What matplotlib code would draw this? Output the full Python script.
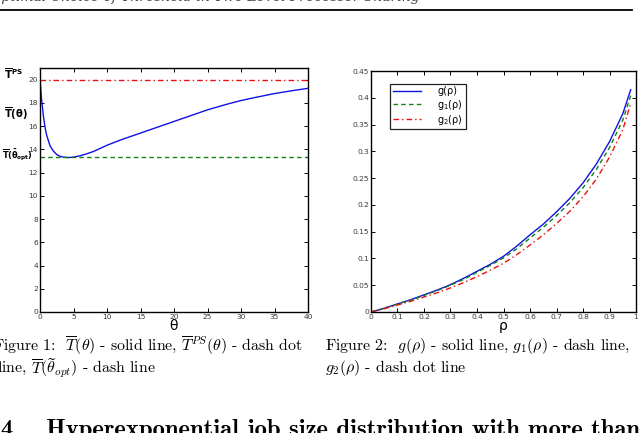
import matplotlib
matplotlib.use("Agg")
import matplotlib.pyplot as plt
import matplotlib.transforms as mtransforms

plt.rcParams['mathtext.fontset'] = 'dejavusans'

# ---- data: figure 1 ----
theta = [0, 0.25, 0.5, 0.75, 1, 1.5, 2, 2.5, 3, 3.5, 4, 4.5, 5, 6, 7, 8, 10,
         12, 15, 18, 20, 22, 25, 28, 30, 32, 35, 38, 40]
T_theta = [20, 18.2, 16.9, 15.9, 15.2, 14.3, 13.85, 13.55, 13.4, 13.33, 13.3,
           13.3, 13.33, 13.45, 13.62, 13.82, 14.35, 14.8, 15.4, 16.0, 16.4,
           16.8, 17.4, 17.9, 18.2, 18.45, 18.8, 19.08, 19.25]
T_ps = 20.0
T_opt = 13.3
xticks1 = [0, 5, 10, 15, 20, 25, 30, 35, 40]
yticks1 = [0, 2, 4, 6, 8, 10, 12, 14, 16, 18, 20]

# ---- data: figure 2 ----
rho = [0, 0.05, 0.1, 0.15, 0.2, 0.25, 0.3, 0.35, 0.4, 0.45, 0.5, 0.55, 0.6,
       0.65, 0.7, 0.75, 0.8, 0.85, 0.9, 0.95, 0.98]
g = [0, 0.007, 0.015, 0.023, 0.032, 0.041, 0.051, 0.063, 0.076, 0.089, 0.104,
     0.123, 0.144, 0.164, 0.187, 0.212, 0.241, 0.276, 0.318, 0.37, 0.415]
g1 = [0, 0.007, 0.015, 0.022, 0.031, 0.040, 0.050, 0.061, 0.074, 0.087, 0.101,
      0.118, 0.138, 0.158, 0.180, 0.204, 0.232, 0.266, 0.307, 0.358, 0.404]
g2 = [0, 0.006, 0.013, 0.020, 0.028, 0.036, 0.045, 0.055, 0.066, 0.078, 0.091,
      0.107, 0.125, 0.144, 0.165, 0.188, 0.215, 0.248, 0.289, 0.34, 0.39]
xticks2 = [0, 0.1, 0.2, 0.3, 0.4, 0.5, 0.6, 0.7, 0.8, 0.9, 1]
xticklabels2 = ['0', '0.1', '0.2', '0.3', '0.4', '0.5', '0.6', '0.7', '0.8', '0.9', '1']
yticks2 = [0, 0.05, 0.1, 0.15, 0.2, 0.25, 0.3, 0.35, 0.4, 0.45]
yticklabels2 = ['0', '0.05', '0.1', '0.15', '0.2', '0.25', '0.3', '0.35', '0.4', '0.45']
legend_labels = ['g(ρ)', 'g$_1$(ρ)', 'g$_2$(ρ)']

W, H = 643, 433
fig = plt.figure(figsize=(W / 100, H / 100), dpi=100)

BLUE, GREEN, RED = '#1010e8', '#108010', '#e81010'
DASH = (0, (3.2, 2.4))
DASHDOT = (0, (4, 2.2, 1, 2.2))

def style(ax):
    ax.tick_params(direction='in', length=3, width=0.7, labelsize=5.4,
                   labelcolor='#3a3a3a', top=True, right=True, pad=1.5)
    for s in ax.spines.values():
        s.set_linewidth(1.0)

ax1 = fig.add_axes([40 / W, 1 - 312 / H, 268 / W, 244 / H])
ax1.plot(theta, T_theta, color=BLUE, lw=1.0)
ax1.axhline(T_ps, color=RED, lw=1.0, ls=DASHDOT)
ax1.axhline(T_opt, color=GREEN, lw=1.0, ls=DASH)
ax1.set_xlim(0, 40)
ax1.set_ylim(0, 21)
ax1.set_xticks(xticks1)
ax1.set_yticks(yticks1)
style(ax1)
ax1.set_xlabel('θ', fontsize=10, labelpad=-1)

tr = mtransforms.blended_transform_factory(fig.transFigure, ax1.transData)
ax1.text(4 / W, 20.5, r'$\mathbf{\overline{T}^{PS}}$', transform=tr, fontsize=7.3,
         ha='left', va='center')
ax1.text(4 / W, 17.1, r'$\mathbf{\overline{T}(\theta)}$', transform=tr, fontsize=7.2,
         ha='left', va='center')
ax1.text(2 / W, 13.5, r'$\mathbf{\overline{T}(\bar{\theta}_{opt})}$', transform=tr,
         fontsize=5.9, ha='left', va='center')

ax2 = fig.add_axes([371 / W, 1 - 312 / H, 265 / W, 241 / H])
ax2.plot(rho, g, color=BLUE, lw=1.0, label=legend_labels[0])
ax2.plot(rho, g1, color=GREEN, lw=1.0, ls=DASH, label=legend_labels[1])
ax2.plot(rho, g2, color=RED, lw=1.0, ls=DASHDOT, label=legend_labels[2])
ax2.set_xlim(0, 1)
ax2.set_ylim(0, 0.45)
ax2.set_xticks(xticks2)
ax2.set_xticklabels(xticklabels2)
ax2.set_yticks(yticks2)
ax2.set_yticklabels(yticklabels2)
style(ax2)
ax2.set_xlabel('ρ', fontsize=10, labelpad=-1)
leg = ax2.legend(loc='upper left', bbox_to_anchor=(0.072, 0.946), borderaxespad=0,
                 fontsize=7, frameon=True, fancybox=False, edgecolor='#222222',
                 framealpha=1, handlelength=2.9, handletextpad=1.7, borderpad=0.25,
                 labelspacing=0.12)
leg.get_frame().set_linewidth(0.9)

# ---- page elements ----
fig.add_artist(plt.Line2D([0, 632 / W], [1 - 10 / H, 1 - 10 / H], color='black', lw=1.3))
fig.text(-10 / W, 1 - 0.5 / H, 'Optimal Choice of Threshold in Two Level Processor Sharing',
         family='DejaVu Serif', style='italic', fontsize=10, va='baseline', color='#444444')
fig.text(614 / W, 1 - 0.5 / H, '15', family='DejaVu Serif', fontsize=10, va='baseline',
         color='#444444')

cap = dict(family='cmr10', fontsize=11.4, va='center', ha='left', math_fontfamily='cm')
fig.text(-7 / W, 1 - 346 / H,
         r'Figure 1:  $\overline{T}(\theta)$ - solid line, $\overline{T}^{PS}(\theta)$ - dash dot', **cap)
fig.text(-3 / W, 1 - 368 / H,
         r'line, $\overline{T}(\widetilde{\theta}_{opt})$ - dash line', **cap)
fig.text(325 / W, 1 - 346 / H,
         r'Figure 2:  $g(\rho)$ - solid line, $g_1(\rho)$ - dash line,', **cap)
fig.text(325 / W, 1 - 368 / H, r'$g_2(\rho)$ - dash dot line', **cap)
fig.text(1 / W, 1 - 430 / H,
         '4    Hyperexponential job size distribution with more than',
         family='cmb10', fontsize=17.8, va='center', ha='left')

fig.savefig('out.png', dpi=100)
